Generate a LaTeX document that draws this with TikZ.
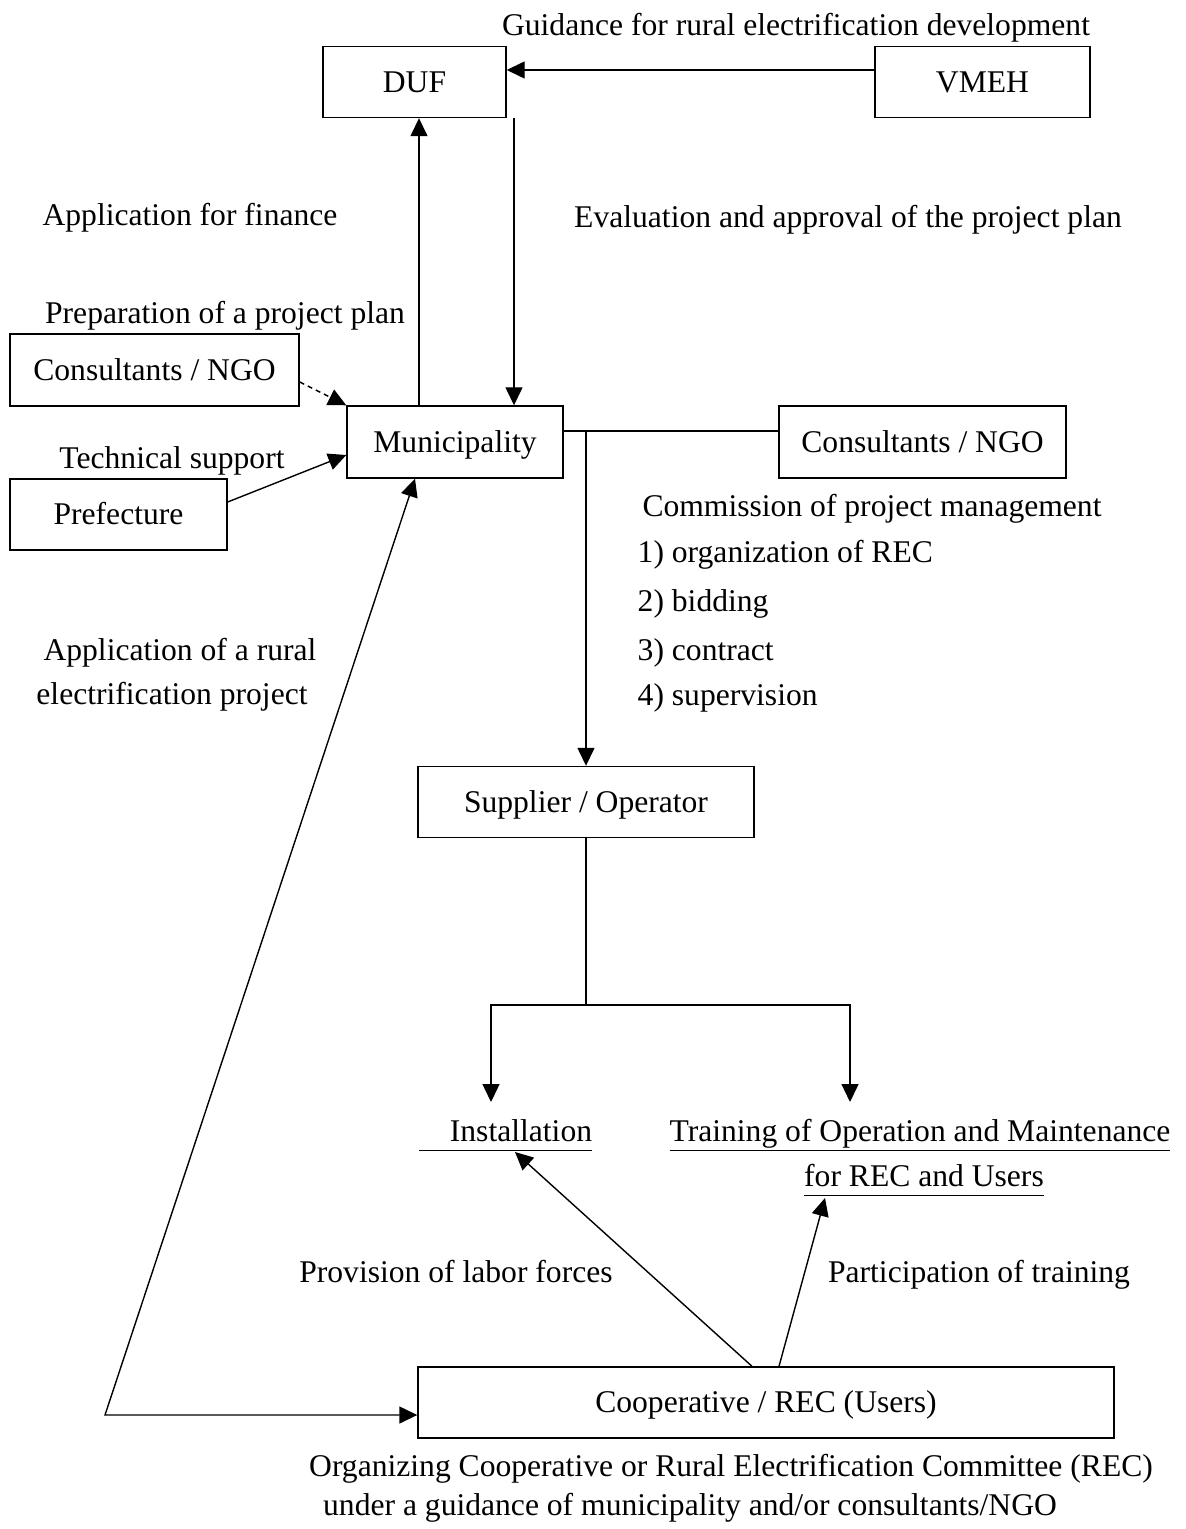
\documentclass[tikz,border=0pt]{standalone}
\usepackage{fontspec}
\setmainfont{Liberation Serif}
\usetikzlibrary{arrows.meta}
\newcommand{\undl}[1]{\underline{\vphantom{g}#1}}

\begin{document}
\begin{tikzpicture}[x=0.5pt, y=-0.5pt, font=\fontsize{15.8}{20}\selectfont, line width=0.7pt]
		\tikzstyle{box} = [rectangle, draw=black, minimum height=35.5pt, inner sep=0pt, text height=10.4pt, text depth=0pt]
		
		\tikzstyle{txt} = [inner sep=0pt, anchor=base]
		
		\tikzstyle{arrow} = [-{Triangle[length=9pt,width=8.5pt]}]
		\tikzstyle{arrow2} = [{Triangle[length=9pt,width=8.5pt]}-{Triangle[length=9pt,width=8.5pt]}]
		\useasboundingbox (0,0) rectangle (1186,1529);
		%-------------------------------------------------------
		% Boxes
		\node (duf) [box, minimum width=91.5pt] at (414.5,82) {DUF};
		\node (vmeh) [box, minimum width=107.5pt] at (982.5,82) {VMEH};
		\node (consl) [box, minimum width=144.5pt, minimum height=36pt] at (154.5,370) {Consultants / NGO};
		\node (muni) [box, minimum width=108pt, minimum height=36pt] at (455,442) {Municipality};
		\node (consr) [box, minimum width=143.5pt, minimum height=36pt] at (922.5,442) {Consultants / NGO};
		\node (pref) [box, minimum width=108.5pt] at (118.5,514.5) {Prefecture};
		\node (supp) [box, minimum width=168pt] at (586,802) {Supplier / Operator};
		\node (coop) [box, minimum width=348pt] at (766,1402.5) {Cooperative / REC (Users)};
		
		% Texts
		\node (guide) [txt] at (796,36) {Guidance for rural electrification development};
		\node (finance) [txt] at (190,226) {Application for finance};
		\node (eval) [txt] at (848,228) {Evaluation and approval of the project plan};
		\node (prep) [txt] at (225,324) {Preparation of a project plan};
		\node (tech) [txt] at (172,468) {Technical support};
		\node (comm) [txt] at (872,516) {Commission of project management};
		\node (l1) [txt, anchor=base west] at (637,562) {1) organization of REC};
		\node (l2) [txt, anchor=base west] at (637,611) {2) bidding};
		\node (l3) [txt, anchor=base west] at (637,660) {3) contract};
		\node (l4) [txt, anchor=base west] at (637,705) {4) supervision};
		\node (app1) [txt] at (180,660) {Application of a rural};
		\node (app2) [txt] at (172,704) {electrification project};
		\node (inst) [txt] at (505.5,1141) {\undl{\hspace*{15.5pt}Installation}};
		\node (train1) [txt] at (920,1141) {\undl{Training of Operation and Maintenance}};
		\node (train2) [txt] at (924,1186) {\undl{for REC and Users}};
		\node (labor) [txt] at (456,1282) {Provision of labor forces};
		\node (part) [txt] at (979,1282) {Participation of training};
		\node (org1) [txt] at (731,1476) {Organizing Cooperative or Rural Electrification Committee (REC)};
		\node (org2) [txt] at (690,1515) {under a guidance of municipality and/or consultants/NGO};
		
		% Helper points
		\coordinate (m1) at ([yshift=5.5pt]muni.east);
		\coordinate (fork) at (586,1005);
		\coordinate (a1) at (491,1102);
		\coordinate (a2) at (850,1102);
		\coordinate (a3) at (515,1152);
		\coordinate (a4) at (825,1198);
		\coordinate (corner) at (105,1415);
		
		% Connectors
		\draw [arrow] ([yshift=6pt]vmeh.west) -- ([yshift=6pt]vmeh.west -| duf.east);
		\draw [arrow] ([xshift=-18pt]muni.north) -- ([xshift=-18pt]muni.north |- duf.south);
		\draw [arrow] ([xshift=49.75pt]duf.south) -- ([xshift=49.75pt]duf.south |- muni.north);
		\draw [arrow, dash pattern=on 2.5pt off 2pt] ([yshift=-6pt]consl.east) -- (muni.north west);
		\draw [arrow] ([yshift=6.25pt]pref.east) -- ([yshift=-6.5pt]muni.west);
		\draw (m1) -- (m1 -| consr.west);
		\draw [arrow] (m1 -| supp.north) -- (supp.north);
		\draw (supp.south) -- (fork);
		\draw [arrow] (fork) -| (a1);
		\draw [arrow] (fork) -| (a2);
		\draw [arrow] ([xshift=-7pt]coop.north) -- (a3);
		\draw [arrow] ([xshift=6.5pt]coop.north) -- (a4);
		\draw [arrow2] ([xshift=-20pt]muni.south) -- (corner) -- ([yshift=-6.25pt]coop.west);
\end{tikzpicture}
\end{document}
